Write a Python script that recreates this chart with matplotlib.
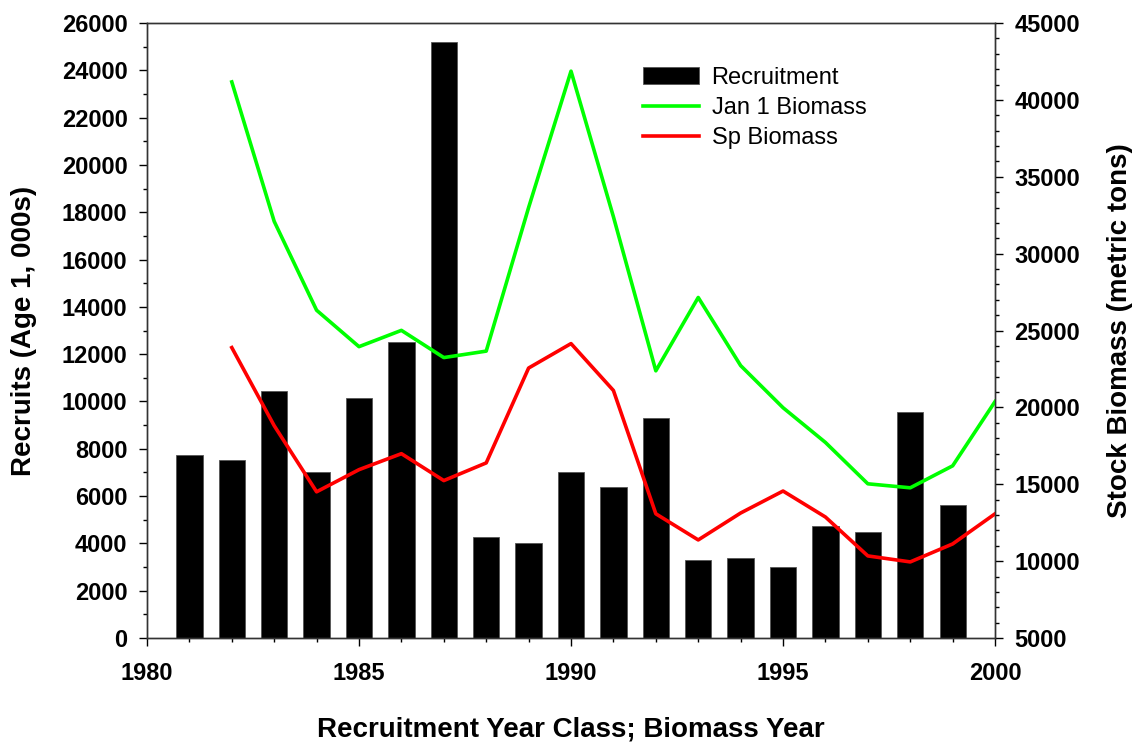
import matplotlib
matplotlib.use("Agg")
import matplotlib.pyplot as plt
from matplotlib.ticker import MultipleLocator

plt.rcParams['font.family'] = ['Liberation Sans', 'DejaVu Sans']

# recruitment by year class (thousands of age-1 fish)
rec_years = [1981, 1982, 1983, 1984, 1985, 1986, 1987, 1988, 1989, 1990,
             1991, 1992, 1993, 1994, 1995, 1996, 1997, 1998, 1999]
recruits = [7750, 7520, 10450, 7000, 10130, 12530, 25200, 4290, 4000, 7000,
            6400, 9320, 3300, 3390, 3010, 4740, 4490, 9540, 5640]

# biomass by year (metric tons)
bio_years = [1982, 1983, 1984, 1985, 1986, 1987, 1988, 1989, 1990, 1991,
             1992, 1993, 1994, 1995, 1996, 1997, 1998, 1999, 2000]
jan1_biomass = [41170, 32100, 26320, 23950, 25010, 23240, 23660, 33000, 41870, 32400,
                22380, 27150, 22720, 19980, 17720, 15030, 14770, 16200, 20380]
sp_biomass = [23890, 18810, 14510, 15950, 16990, 15240, 16390, 22560, 24150, 21100,
              13080, 11380, 13130, 14560, 12870, 10340, 9950, 11120, 13080]

fig = plt.figure(figsize=(11.35, 7.43), dpi=100)
ax = fig.add_axes([0.1295, 0.1413, 0.7472, 0.8277])
ax2 = ax.twinx()

bars = ax.bar(rec_years, recruits, width=0.62, color='black', edgecolor='#555555',
              linewidth=0.6, label='Recruitment')
l1, = ax2.plot(bio_years, jan1_biomass, color='#00ff00', lw=2.6, label='Jan 1 Biomass')
l2, = ax2.plot(bio_years, sp_biomass, color='#ff0000', lw=2.6, label='Sp Biomass')

ax.set_xlim(1980, 2000)
ax.set_ylim(0, 26000)
ax2.set_ylim(5000, 45000)

ax.xaxis.set_major_locator(MultipleLocator(5))
ax.xaxis.set_minor_locator(MultipleLocator(1))
ax.yaxis.set_major_locator(MultipleLocator(2000))
ax.yaxis.set_minor_locator(MultipleLocator(1000))
ax2.yaxis.set_major_locator(MultipleLocator(5000))
ax2.yaxis.set_minor_locator(MultipleLocator(1000))

for a in (ax, ax2):
    a.tick_params(which='major', direction='out', length=6, width=1, labelsize=17)
    a.tick_params(which='minor', direction='out', length=3, width=1)
    for lab in a.get_yticklabels() + a.get_xticklabels():
        lab.set_fontweight('bold')
    for s in a.spines.values():
        s.set_linewidth(1.0)
        s.set_color('#333333')
ax.tick_params(axis='x', which='major', pad=11)
ax.tick_params(axis='y', which='major', pad=8)
ax2.tick_params(axis='y', which='major', pad=8)

ax.set_xlabel('Recruitment Year Class; Biomass Year', fontsize=20, fontweight='bold')
ax.set_ylabel('Recruits (Age 1, 000s)', fontsize=20, fontweight='bold')
ax2.set_ylabel('Stock Biomass (metric tons)', fontsize=20, fontweight='bold')
ax.xaxis.set_label_coords(0.5, -0.127)
ax.yaxis.set_label_coords(-0.130, 0.5)
ax2.yaxis.set_label_coords(1.132, 0.5)

ax2.legend([bars, l1, l2], ['Recruitment', 'Jan 1 Biomass', 'Sp Biomass'],
           loc='upper left', bbox_to_anchor=(0.585, 0.929), frameon=False,
           fontsize=17, handlelength=2.35, handletextpad=0.55, labelspacing=0.35,
           borderpad=0, borderaxespad=0)

fig.savefig('out.png', dpi=100)
